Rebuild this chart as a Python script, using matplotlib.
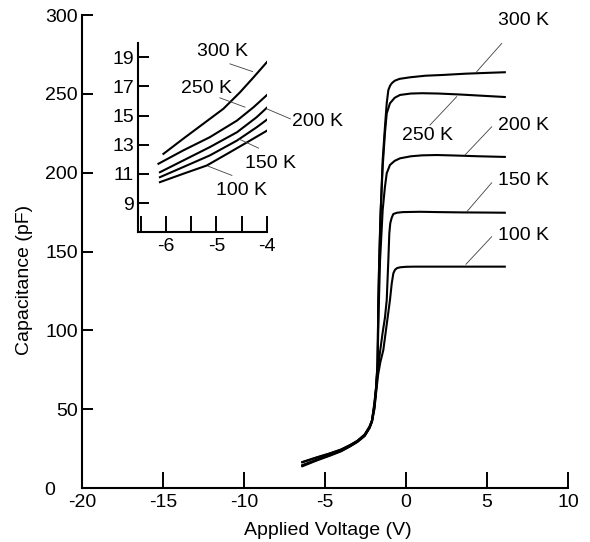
import matplotlib
matplotlib.use("Agg")
import matplotlib.pyplot as plt
from matplotlib.ticker import MultipleLocator
from matplotlib.transforms import ScaledTranslation

plt.rcParams['font.family'] = ['Liberation Sans', 'DejaVu Sans']
plt.rcParams['font.size'] = 14
plt.rcParams['axes.unicode_minus'] = False

# C-V sweeps, full range (V, pF)
temps = ['300 K', '250 K', '200 K', '150 K', '100 K']

v_300 = [-6.4, -5.5, -4.7, -4.0, -3.45, -3.0, -2.55, -2.25, -2.1, -1.95, -1.85, -1.75, -1.71, -1.65,
         -1.56, -1.44, -1.3, -1.19, -1.09, -0.98, -0.88, -0.7, -0.4, 0.25, 1.2, 2.3, 3.7, 5.0, 6.1]
c_300 = [16.5, 19.5, 22.0, 24.5, 27.3, 30.0, 34.0, 39.0, 43.0, 54.0, 64.0, 80.0, 119.0, 144.6,
         176.0, 208.0, 229.0, 244.0, 252.4, 255.2, 256.7, 258.3, 259.5, 260.5, 261.5, 262.0, 262.8, 263.3, 263.7]

v_250 = [-6.4, -5.5, -4.7, -4.0, -3.45, -3.0, -2.55, -2.25, -2.1, -1.95, -1.85, -1.76, -1.71, -1.66,
         -1.58, -1.44, -1.3, -1.19, -0.99, -0.7, -0.37, 0.3, 1.0, 2.0, 3.3, 4.7, 6.1]
c_250 = [16.3, 19.3, 21.8, 24.3, 27.1, 29.8, 33.8, 38.8, 42.8, 53.0, 63.0, 78.0, 115.0, 142.0,
         172.0, 203.8, 225.0, 237.6, 244.0, 247.5, 249.3, 250.2, 250.4, 250.2, 249.6, 248.8, 248.0]

v_200 = [-6.4, -5.5, -4.7, -4.0, -3.45, -3.0, -2.55, -2.25, -2.1, -1.95, -1.85, -1.76, -1.69, -1.6,
         -1.44, -1.3, -1.19, -0.99, -0.7, -0.37, 0.3, 1.0, 1.9, 3.0, 4.5, 6.1]
c_200 = [14.5, 18.0, 21.0, 23.8, 26.8, 29.6, 33.5, 38.5, 42.5, 52.0, 62.0, 76.0, 112.0, 144.6,
         176.3, 191.0, 199.6, 204.9, 207.5, 209.1, 210.4, 211.0, 211.2, 210.9, 210.4, 210.0]

v_150 = [-6.4, -5.5, -4.7, -4.0, -3.45, -3.0, -2.55, -2.25, -2.1, -1.95, -1.85, -1.75, -1.62, -1.45,
         -1.3, -1.19, -1.09, -1.03, -0.97, -0.88, -0.78, -0.55, -0.2, 0.86, 2.0, 3.5, 5.0, 6.1]
c_150 = [14.2, 17.8, 20.8, 23.6, 26.6, 29.4, 33.2, 38.2, 42.2, 51.0, 62.0, 73.0, 85.0, 98.0,
         108.0, 119.2, 144.6, 161.5, 168.0, 171.5, 173.8, 174.6, 175.0, 175.2, 175.0, 174.8, 174.7, 174.6]

v_100 = [-6.4, -5.5, -4.7, -4.0, -3.45, -3.0, -2.55, -2.25, -2.1, -1.95, -1.85, -1.72, -1.58, -1.4,
         -1.2, -0.99, -0.88, -0.78, -0.68, -0.55, -0.35, 0.0, 0.5, 1.5, 3.0, 4.5, 6.1]
c_100 = [13.8, 17.5, 20.5, 23.3, 26.4, 29.2, 33.0, 38.0, 42.0, 50.0, 60.0, 72.0, 80.0, 87.5,
         103.0, 119.2, 129.8, 136.2, 138.4, 139.5, 140.0, 140.3, 140.4, 140.4, 140.4, 140.4, 140.4]

# low-bias detail, -6 V to -4 V
iv_300 = [-6.05, -5.66, -5.26, -4.86, -4.53, -4.26, -3.97]
ic_300 = [12.38, 13.41, 14.44, 15.47, 16.6, 17.63, 18.77]
iv_250 = [-6.15, -5.66, -5.13, -4.59, -4.26, -3.97]
ic_250 = [11.7, 12.61, 13.52, 14.66, 15.58, 16.49]
iv_200 = [-6.12, -5.66, -5.13, -4.59, -4.2, -3.95]
ic_200 = [11.12, 11.92, 12.84, 13.86, 14.89, 15.69]
iv_150 = [-6.12, -5.66, -5.13, -4.59, -4.2, -3.93]
ic_150 = [10.78, 11.47, 12.27, 13.29, 14.2, 14.89]
iv_100 = [-6.12, -5.66, -5.19, -4.73, -4.33, -3.93]
ic_100 = [10.44, 11.01, 11.58, 12.49, 13.29, 14.1]

main_curves = [(v_300, c_300), (v_250, c_250), (v_200, c_200), (v_150, c_150), (v_100, c_100)]
inset_curves = [(iv_300, ic_300), (iv_250, ic_250), (iv_200, ic_200), (iv_150, ic_150), (iv_100, ic_100)]

# label spot, then leader start/end (data coords of each axes)
main_labels = [((7.27, 296.3), (5.91, 282.0), (4.36, 264.0)),
               ((1.33, 223.3), (1.48, 230.2), (3.13, 248.2)),
               ((7.24, 229.7), (5.29, 229.1), (3.64, 211.2)),
               ((7.24, 194.8), (5.29, 193.6), (3.75, 175.2)),
               ((7.24, 160.0), (5.29, 159.4), (3.70, 141.9))]
inset_labels = [((-4.88, 19.42), (-4.73, 18.55), (-4.28, 18.02)),
                ((-5.19, 16.89), (-4.93, 16.22), (-4.43, 15.58)),
                ((-2.99, 14.61), (-4.00, 15.47), (-3.53, 14.78)),
                ((-3.93, 11.75), (-4.56, 13.41), (-4.16, 12.77)),
                ((-4.51, 9.84), (-5.16, 11.53), (-4.69, 10.90))]


def style_axes(ax):
    ax.spines['top'].set_visible(False)
    ax.spines['right'].set_visible(False)
    for s in ('left', 'bottom'):
        ax.spines[s].set_linewidth(1.5)
    ax.tick_params(axis='x', which='both', direction='in', length=11.5, width=1.4, pad=4)
    ax.tick_params(axis='y', which='both', direction='in', length=8, width=1.4, pad=3)


def add_labels(ax, labels):
    for name, (pos, p1, p2) in zip(temps, labels):
        ax.text(pos[0], pos[1], name, ha='center', va='center')
        ax.plot([p1[0], p2[0]], [p1[1], p2[1]], color='0.25', lw=0.6, clip_on=False)


fig = plt.figure(figsize=(5.9, 5.42), dpi=100)
ax = fig.add_axes([0.139, 0.0996, 0.8237, 0.8727])
for v, c in main_curves:
    ax.plot(v, c, color='black', lw=1.5)
ax.set_xlim(-20, 10)
ax.set_ylim(0, 300)
ax.set_xticks(range(-20, 11, 5))
ax.set_yticks(range(0, 301, 50))
style_axes(ax)
ax.set_xlabel('Applied Voltage (V)')
ax.xaxis.set_label_coords(0.506, -0.072)
ax.set_ylabel('Capacitance (pF)')
ax.yaxis.set_label_coords(-0.101, 0.44)
add_labels(ax, main_labels)

# the zero sits further out so it clears the -20 below it
zero = ax.get_yticklabels()[0]
zero.set_transform(zero.get_transform() + ScaledTranslation(-16 / 72, 0, fig.dpi_scale_trans))

axin = fig.add_axes([0.2344, 0.5714, 0.2176, 0.3498])
for v, c in inset_curves:
    axin.plot(v, c, color='black', lw=1.5)
axin.set_xlim(-6.55, -4)
axin.set_ylim(7, 20)
axin.set_xticks([-6, -5, -4])
axin.xaxis.set_minor_locator(MultipleLocator(0.5))
axin.set_yticks(range(9, 20, 2))
axin.patch.set_visible(False)
style_axes(axin)
add_labels(axin, inset_labels)

fig.savefig('out.png', dpi=100)
